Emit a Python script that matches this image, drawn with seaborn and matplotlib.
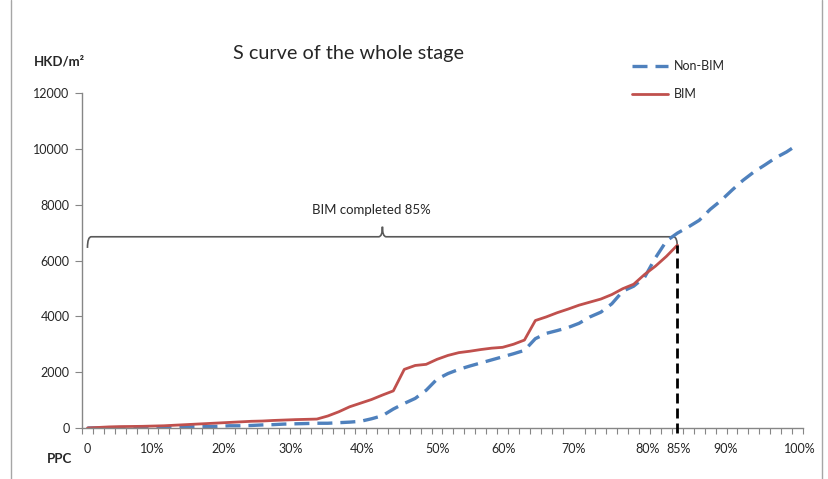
import numpy as np
import pandas as pd
import matplotlib
matplotlib.use("Agg")  # no display
import matplotlib.pyplot as plt
from matplotlib.path import Path
from matplotlib.patches import PathPatch
from matplotlib.lines import Line2D
import seaborn as sns

# ── Data (cost per m2 against planned progress, one point per category) ──────
non_bim = [0, 5, 10, 15, 20, 25, 30, 30, 35, 40,
           45, 50, 60, 80, 80, 90, 110, 120, 140, 150,
           160, 170, 170, 190, 210, 240, 330, 440, 680, 880,
           1060, 1350, 1750, 1950, 2100, 2220, 2330, 2440, 2550, 2660,
           2780, 3200, 3390, 3490, 3600, 3750, 3980, 4150, 4450, 4900,
           5080, 5400, 6100, 6700, 6980, 7200, 7440, 7830, 8150, 8520,
           8870, 9170, 9420, 9680, 9890, 10150]
bim = [0, 20, 40, 50, 55, 60, 70, 80, 100, 120,
       140, 160, 180, 200, 220, 240, 250, 270, 285, 300,
       310, 320, 430, 580, 760, 890, 1020, 1180, 1330, 2100,
       2240, 2280, 2460, 2600, 2700, 2750, 2810, 2860, 2890, 3000,
       3150, 3850, 3980, 4130, 4260, 4400, 4510, 4620, 4780, 4990,
       5150, 5500, 5800, 6150, 6550]
ppc_labels = ["0", "10%", "20%", "30%", "40%", "50%", "60%", "70%",
              "80%", "85%", "90%", "100%"]
y_ticks = [0, 2000, 4000, 6000, 8000, 10000, 12000]

# ── Layout / style ────────────────────────────────────────────────────────────
ppc_label_pos = [0, 5.9, 12.5, 18.6, 25.1, 32.0, 38.05, 44.5, 51.3, 54.1, 58.4, 65.2]
BLUE = "#4F81BD"
RED = "#C0504D"
AXIS_GREY = "#868686"
TXT = "#262626"

df_non = pd.DataFrame({"ppc": np.arange(len(non_bim)), "cost": non_bim})
df_bim = pd.DataFrame({"ppc": np.arange(len(bim)), "cost": bim})

sns.set_style("white")
plt.rcParams["font.family"] = ["Lato", "DejaVu Sans"]
plt.rcParams["xtick.bottom"] = True
plt.rcParams["ytick.left"] = True

fig = plt.figure(figsize=(8.29, 4.79), dpi=100)
ax = fig.add_axes([82 / 829, 51 / 479, 721 / 829, 335 / 479])

sns.lineplot(data=df_non, x="ppc", y="cost", ax=ax, color=BLUE, lw=2.4,
             linestyle=(0, (4.5, 2.4)), legend=False)
sns.lineplot(data=df_bim, x="ppc", y="cost", ax=ax, color=RED, lw=2.0,
             legend=False)

# ── Axes ──
ax.set_xlim(-0.5, len(non_bim) - 0.5)
ax.set_ylim(0, 12000)
ax.set_xlabel("")
ax.set_ylabel("")
ax.set_yticks(y_ticks)
ax.set_yticklabels([str(v) for v in y_ticks], fontsize=9, color=TXT)
ax.set_xticks(ppc_label_pos)
ax.set_xticklabels(ppc_labels, fontsize=9, color=TXT)
ax.set_xticks(np.arange(-0.5, len(non_bim), 1), minor=True)
ax.tick_params(axis="x", which="major", length=0, pad=11)
ax.tick_params(axis="x", which="minor", bottom=True, length=4, width=0.8,
               color=AXIS_GREY, direction="out")
ax.tick_params(axis="y", which="major", left=True, length=5, width=0.8,
               color=AXIS_GREY, direction="out", pad=4)
for side in ["top", "right"]:
    ax.spines[side].set_visible(False)
for side in ["left", "bottom"]:
    ax.spines[side].set_color(AXIS_GREY)
    ax.spines[side].set_linewidth(1.0)

# ── Vertical marker at BIM completion ──
x_end = len(bim) - 1
ax.plot([x_end, x_end], [-180, bim[-1]], color="black", lw=2.0,
        linestyle=(0, (3.6, 1.8)), clip_on=False, zorder=3)

# ── Brace "BIM completed 85%" ──
level = bim[-1] + 300
drop, rise, dx = 400, 360, 0.35
x_mid = x_end / 2
verts = [(0, level - drop), (0, level), (dx, level),
         (x_mid - dx, level), (x_mid, level), (x_mid, level + rise),
         (x_mid, level), (x_mid + dx, level),
         (x_end - dx, level), (x_end, level), (x_end, level - drop)]
codes = [Path.MOVETO, Path.CURVE3, Path.CURVE3,
         Path.LINETO, Path.CURVE3, Path.CURVE3,
         Path.CURVE3, Path.CURVE3,
         Path.LINETO, Path.CURVE3, Path.CURVE3]
ax.add_patch(PathPatch(Path(verts, codes), facecolor="none",
                       edgecolor="#595959", lw=1.2, clip_on=False))
ax.annotate("BIM completed 85%", xy=(x_mid - 1, level), xytext=(0, 19),
            textcoords="offset points", ha="center", va="center",
            fontsize=9.5, color=TXT)

# ── Legend ──
handles = [Line2D([], [], color=BLUE, lw=2.4, linestyle=(0, (4.5, 2.4))),
           Line2D([], [], color=RED, lw=2.0)]
fig.legend(handles, ["Non-BIM", "BIM"], loc="upper left",
           bbox_to_anchor=(626 / 829, 1 - 54 / 479), frameon=False,
           fontsize=9, borderpad=0, handlelength=2.9, handletextpad=0.4,
           labelspacing=1.3, labelcolor=TXT)

# ── Texts ──
fig.text(349 / 829, 1 - 53 / 479, "S curve of the whole stage",
         ha="center", va="center", fontsize=14.3, color=TXT)
fig.text(59 / 829, 1 - 62 / 479, "HKD/m²", ha="center", va="center",
         fontsize=9.5, fontweight="bold", color=TXT)
fig.text(60 / 829, 1 - 459 / 479, "PPC", ha="center", va="center",
         fontsize=9.5, fontweight="bold", color=TXT)

# ── Frame lines of the original picture ──
for xp in [11, 822]:
    fig.add_artist(Line2D([xp / 829, xp / 829], [0, 1], color="#A6A6A6",
                          lw=1.0, transform=fig.transFigure))

fig.savefig("out.png", dpi=100)
